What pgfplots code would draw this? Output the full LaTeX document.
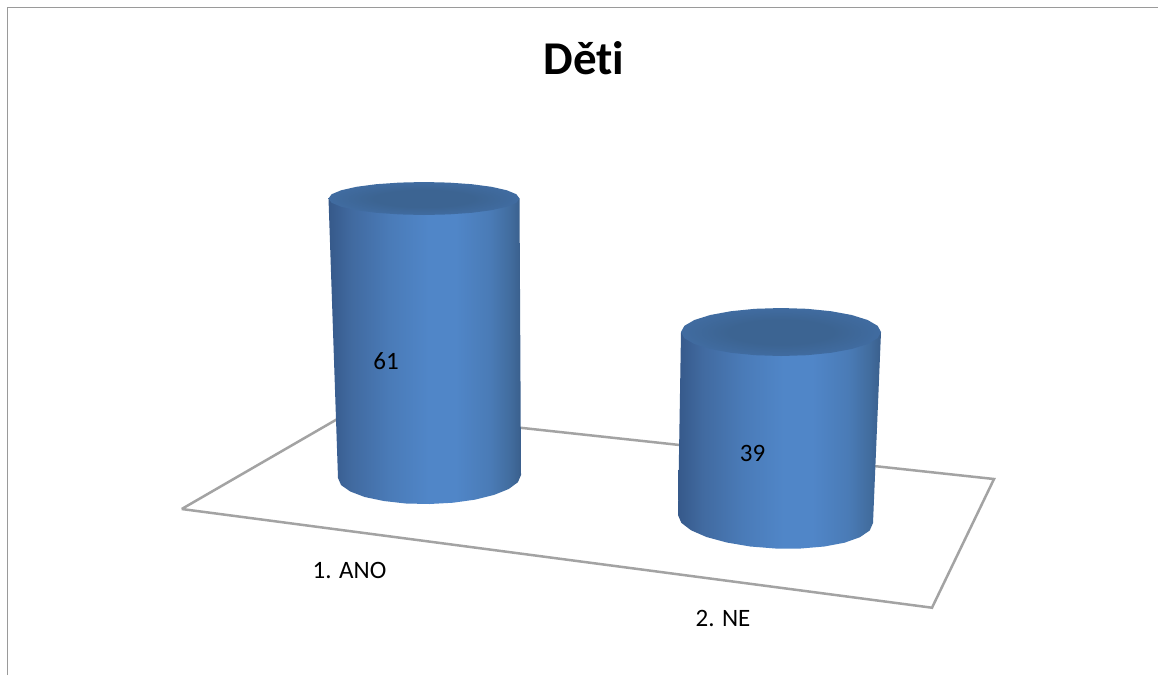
\documentclass[border=0pt]{standalone}
\usepackage{fontspec}
\setmainfont{Carlito}[Ligatures=NoCommon]
\usepackage{pgfplots}
\pgfplotsset{compat=1.18}
\definecolor{gridgray}{HTML}{A3A3A3}
\definecolor{framegray}{HTML}{9A9A9A}
\definecolor{cA}{HTML}{36598A}
\definecolor{cB}{HTML}{416AA0}
\definecolor{cC}{HTML}{4A7BB8}
\definecolor{cD}{HTML}{5086C8}
\definecolor{cE}{HTML}{4A7BB6}
\definecolor{cG}{HTML}{426D9F}
\definecolor{cF}{HTML}{3A5F8C}
\definecolor{tA}{HTML}{3C6492}
\definecolor{tB}{HTML}{416DA3}
\pgfdeclarehorizontalshading{cyl}{100bp}{
  color(0bp)=(cA); color(25bp)=(cA); color(31bp)=(cB); color(41bp)=(cC);
  color(51bp)=(cD); color(58bp)=(cD); color(67bp)=(cE); color(72bp)=(cG); color(75bp)=(cF); color(100bp)=(cF)}
\pgfdeclareradialshading{lid}{\pgfpoint{0bp}{0bp}}{
  color(0bp)=(tA); color(13bp)=(tA); color(27bp)=(tB); color(50bp)=(tB)}
\begin{document}
\begin{tikzpicture}
\begin{axis}[
  scale only axis, width=1158pt, height=675pt,
  xmin=0, xmax=1158, ymin=0, ymax=675, y dir=reverse,
  axis lines=none, clip=true,
  every axis plot/.append style={forget plot},
  font=\fontsize{25}{30}\selectfont]
% page extent
\addplot[fill=white, draw=none] coordinates {(0,0) (1158,0) (1158,675) (0,675) (0,0)};
% chart frame
\addplot[framegray, line width=1.3pt] coordinates {(7.5,675) (7.5,7.5) (1158,7.5)};
% floor
\addplot[gridgray, line width=2.5pt, line join=miter] coordinates
  {(181.7,509) (353.5,409.7) (994,479) (932,607.7) (181.7,509)};
% cylinder 1.ANO : value 61
\addplot[shading=cyl, draw=none] coordinates {
  (328.5,198.5) (519.5,198.5) (521,475) (517.9,482.2) (508.7,489) (494.3,494.8)
  (475.3,499.6) (453.1,502.7) (429.5,504) (405.9,503.5) (383.8,501) (364.7,497)
  (350.3,491.5) (341.1,485.1) (338,478) (328.5,198.5)};
\addplot[shading=lid, draw=none] coordinates {
  (328.5,198.5) (331.7,194.2) (341.3,190.25) (356.5,186.8) (376.25,184.2) (399.3,182.6)
  (424,182) (448.7,182.6) (471.75,184.2) (491.5,186.8) (506.7,190.25) (516.3,194.2)
  (519.5,198.5) (516.3,202.8) (506.7,206.75) (491.5,210.2) (471.75,212.8) (448.7,214.4)
  (424,215) (399.3,214.4) (376.25,212.8) (356.5,210.2) (341.3,206.75) (331.7,202.8)
  (328.5,198.5)};
% cylinder 2.NE : value 39
\addplot[shading=cyl, draw=none] coordinates {
  (681,332) (881,332) (873,523) (869.7,530.5) (859.9,537.2) (844.5,542.7)
  (824.3,546.5) (800.7,548.5) (775.5,548.5) (750.3,546.5) (726.8,542.5) (706.5,537)
  (691.1,530.3) (681.3,522.8) (678,515) (681,332)};
\addplot[shading=lid, draw=none] coordinates {
  (681,332) (684.4,325.8) (694.4,320) (710.3,315) (731,311.2) (755.1,308.8)
  (781,308) (806.9,308.8) (831,311.2) (851.7,315) (867.6,320) (877.6,325.8)
  (881,332) (877.6,338.2) (867.6,344) (851.7,349) (831,352.8) (806.9,355.2)
  (781,356) (755.1,355.2) (731,352.8) (710.3,349) (694.4,344) (684.4,338.2)
  (681,332)};
% texts
\node[font=\fontsize{47}{56}\selectfont\bfseries] at (axis cs:584,58.5) {Děti};
\node at (axis cs:386,361) {61};
\node at (axis cs:752.5,453) {39};
\node at (axis cs:349.5,570) {1. ANO};
\node at (axis cs:723,618) {2. NE};
\end{axis}
\end{tikzpicture}
\end{document}
